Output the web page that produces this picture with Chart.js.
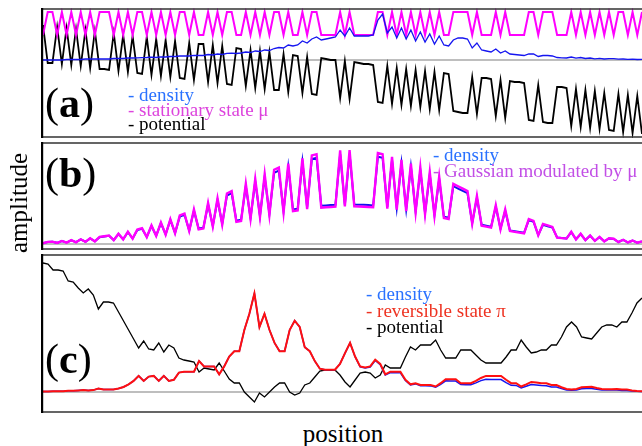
<!DOCTYPE html>
<html><head><meta charset="utf-8">
<script src="https://cdn.jsdelivr.net/npm/chart.js@4/dist/chart.umd.min.js"></script>
<style>
html,body{margin:0;padding:0;background:#fff;}
#wrap{position:relative;width:642px;height:446px;overflow:hidden;background:#fff;}
canvas{position:absolute;}
.t{position:absolute;white-space:nowrap;font-family:"Liberation Serif","Times New Roman",serif;line-height:1;}
.lg{font-size:19px;}
.pl{font-size:42px;color:#000;}
.pl b{font-weight:bold;}
.ax{font-size:25px;color:#000;}
</style></head><body><div id="wrap">
<canvas id="ca"></canvas><canvas id="cb"></canvas><canvas id="cc"></canvas>
<div class="t pl" style="left:45px;top:82px;">(<b>a</b>)</div>
<div class="t pl" style="left:45px;top:152px;">(<b>b</b>)</div>
<div class="t pl" style="left:45px;top:338px;">(<b>c</b>)</div>
<div class="t lg" style="left:128px;top:85px;color:#2a72ff;">- density</div>
<div class="t lg" style="left:128px;top:100px;color:#dd44dd;">- stationary state μ</div>
<div class="t lg" style="left:128px;top:114px;color:#000;">- potential</div>
<div class="t lg" style="left:433px;top:145px;color:#2a72ff;">- density</div>
<div class="t lg" style="left:433px;top:161px;color:#c24fe6;">- Gaussian modulated by μ</div>
<div class="t lg" style="left:366px;top:284px;color:#2a72ff;">- density</div>
<div class="t lg" style="left:366px;top:301px;color:#ee3322;">- reversible state π</div>
<div class="t lg" style="left:366px;top:317px;color:#000;">- potential</div>
<div class="t ax" style="left:18px;top:203px;transform:translate(-50%,-50%) rotate(-90deg);">amplitude</div>
<div class="t ax" style="left:343px;top:433px;transform:translate(-50%,-50%);">position</div>
</div>
<script>
// ---- Panel (a): 128 positions ----
const stationaryA = [
25,48,48,25,48,25,48,25,48,25,48,25,48,48,48,25,
48,25,48,25,48,48,25,48,25,48,25,48,25,48,48,25,
48,25,25,48,25,48,25,48,48,25,25,48,25,48,25,48,
25,48,48,25,48,25,25,48,25,48,48,25,25,25,25,48,
25,48,25,25,25,25,25,48,48,25,48,25,48,25,48,25,
48,25,48,25,48,25,25,48,48,48,48,25,48,25,25,25,
48,25,48,25,25,25,25,48,48,25,48,48,48,25,25,25,
48,25,48,25,48,25,48,25,48,25,48,48,25,48,25,48];
const potentialA = [
35,-3,-3,33,-4,32,-5,31,-6,30,-8,29,-9,-9,-10,27,
-11,25,-12,24,-13,-14,23,-15,21,-16,20,-17,19,-18,-19,17,
-20,16,16,-22,15,-23,14,-24,-25,12,11,-26,10,-28,9,-29,
8,-30,-30,6,-32,5,4,-33,3,-34,-35,2,1,0,0,-38,
-1,-39,-2,-3,-4,-4,-5,-42,-43,-6,-44,-8,-45,-9,-46,-10,
-47,-11,-49,-12,-50,-13,-14,-51,-52,-53,-53,-17,-54,-18,-18,-19,
-56,-20,-58,-21,-22,-22,-23,-60,-61,-25,-62,-63,-63,-27,-27,-28,
-66,-29,-67,-30,-68,-31,-69,-33,-70,-71,-34,-72,-35,-73,-36,-74];
const densityA = [
0,0,0,0,0,0.5,0.5,0.5,0.5,1,1,1,1,1,1,1.5,
1.5,1.5,2,2,2.2,2.4,2.5,2.8,2.5,3.2,3,3.5,3.5,4,4.2,4,
4.6,4.5,4.5,5.5,5,6,5.5,6.6,6.8,6.5,7,8,7.5,9,8.5,10,
9.5,11.5,12.5,12,15,14,15,19,17,21,23,20,21,22,23,30,
24,32,24,24,24,24,25,40,46,27,33,22,32,21,30,19,
28,18,26,16,24,15,14,20,22,22,21,12,17,10,9,8,
11,7,9,6,5.5,5,4.5,6,6,3.5,4.5,4.5,4,2.5,2.2,2,
3,1.8,2.5,1.5,2,1.2,1.6,1,1.3,1.3,0.8,1,0.6,0.8,0.5,0.6];

// ---- Panel (b): 128 positions ----
const gaussianB = [
1.0,2.7,3,1.4,4,1.8,5,2.2,6.1,2.7,7.5,3.3,9.2,10.1,11.1,4.9,
13.4,5.9,16,7,18.9,20.5,8.9,24.1,10.4,28,12,32.3,13.8,37,39.5,16.8,
44.8,19,20.2,53.3,22.5,59.3,25,65.5,68.6,28.7,30,78.1,32.5,84.4,35,90.5,
37.4,96.4,99.2,40.8,104.4,42.8,43.7,111.3,45.3,115,116.6,47.2,47.7,48.1,48.4,121.5,
48.8,122,48.8,48.6,48.4,48.1,47.7,118,116.6,46,113.2,44.5,109.2,42.8,104.4,40.8,
99.2,38.6,93.5,36.2,87.5,33.8,32.5,78.1,75,71.8,68.6,26.2,62.4,23.7,22.5,21.3,
50.4,19,44.8,16.8,15.8,14.8,13.8,32.3,30.1,11.2,26,24.1,22.2,8.2,7.6,7,
16,5.9,13.4,4.9,11.1,4,9.2,3.4,7.5,6.8,2.4,5.5,2,4.5,1.6,3.5];
const densityB = [
1.1,2.6,2.9,1.5,3.8,1.9,4.8,2.3,5.9,2.9,7.2,3.5,8.8,9.7,10.7,5.1,
12.9,6.2,15.4,7.3,18.1,19.7,9.3,23.1,10.9,26.9,12.6,31,14.5,35.5,37.9,17.7,
43,20,21.2,51.2,23.6,56.9,26.2,62.9,65.9,30.2,31.5,75,34.1,81,36.8,86.9,
39.3,92.5,95.2,42.8,100.2,44.9,45.9,106.8,47.5,110.4,111.9,49.6,50.1,50.5,50.8,116.6,
51.2,117.1,51.2,51,50.8,50.5,50.1,113.3,111.9,48.3,108.7,46.7,104.8,44.9,100.2,42.8,
95.2,40.5,89.8,38,84,35.4,34.1,75,72,68.9,65.9,27.5,59.9,24.9,23.6,22.4,
48.4,20,43,17.7,16.6,15.5,14.5,31,28.9,11.8,25,23.1,21.3,8.6,7.9,7.3,
15.4,6.2,12.9,5.1,10.7,4.2,8.8,3.5,7.2,6.5,2.6,5.3,2.1,4.3,1.7,3.4];

// ---- Panel (c): 120 positions ----
const potentialC = [
129,128,122,122,121,111,110,104,99,103,97,83,90,90,89,80,71,62,53,44,
51,43,42,49,40,47,44,34,32,31,30,20,24,23,22,29,21,13,9,9,
0,-5,-10,-1,-5,0,5,9,9,0,-3,-1,7,9,15,21,22,22,22,17,
10,5,12,19,20,19,14,17,27,24,24,24,35,45,42,47,47,47,52,42,
34,34,34,42,42,42,37,32,29,29,29,29,35,42,42,52,45,39,40,42,
42,47,47,55,65,70,65,55,54,53,59,65,67,67,65,70,70,79,89,94];
const reversibleC = [
0.6,0.6,0.8,0.8,0.8,1.2,1.2,1.5,1.9,1.5,1.9,3.5,2.4,2.4,2.4,3.5,5,7.7,11.1,16.1,
11.1,15.4,16.1,11.1,16.1,11.1,12.2,19.4,20.3,20.3,20.3,30.9,25.6,25.6,25.6,17.7,25.6,35.5,40.8,40.8,
62,78.2,98.7,65,78.2,62,49.1,40.8,40.8,62,71.3,65,44.8,40.8,30.9,23.3,22.3,22.3,22.3,28.1,
38.9,49.1,35.5,25.6,24.5,25.6,32.3,28.1,17.7,20.3,20.3,20.3,12.2,7.7,8.8,7,7,7,5.5,8.8,
12.8,12.8,12.8,8.8,8.8,8.8,11.1,14,16.1,16.1,16.1,16.1,12.2,8.8,8.8,5.5,7.7,10.1,9.6,8.8,
8.8,7,7,4.8,3,2.4,3,4.8,5,5.3,4,3,2.8,2.8,3,2.4,2.4,1.6,1,0.8];
const densityC = [
0.6,0.6,0.8,0.8,0.8,1.2,1.2,1.5,1.9,1.5,1.9,3.5,2.4,2.4,2.4,3.5,5,7.7,11.1,16.1,
11.1,15.4,16.1,11.1,16.1,11.1,12.2,19.4,20.3,20.3,20.3,30.9,25.6,25.6,25.6,17.7,25.6,35.5,40.8,40.8,
62,78.2,98.7,65,78.2,62,49.1,40.8,40.8,62,71.3,65,44.8,40.8,30.9,23.3,22.3,22.3,22.3,28.1,
38.9,49.1,35.3,25.2,24,25,31.5,27.3,17,19.4,19.3,19.2,11.4,7.1,8.1,6.3,6.2,6.1,4.7,7.6,
11.2,11,10.9,7.4,7.3,7.2,9.1,11.4,12.8,12.6,12.5,12.4,9.4,6.7,6.6,4.1,5.7,7.4,7,6.4,
6.3,5,5,3.4,2.1,1.7,2.1,3.3,3.5,3.6,2.7,2,1.9,1.9,2,1.6,1.6,1.1,0.7,0.5];

function pts(arr){ return arr.map((v,i)=>({x:i,y:v})); }

const framePlugin = {
  id:'frame',
  beforeDatasetsDraw(chart){
    const c=chart.ctx, y=chart.scales.y.getPixelForValue(0), a=chart.chartArea;
    c.save(); c.strokeStyle='#a8a8a8'; c.lineWidth=1.6;
    c.beginPath(); c.moveTo(a.left,y); c.lineTo(a.right,y); c.stroke(); c.restore();
  },
  afterDraw(chart){
    const c=chart.ctx, w=chart.width, h=chart.height;
    c.save(); c.strokeStyle='#333'; c.lineWidth=1.6;
    c.beginPath(); c.moveTo(0,1); c.lineTo(w,1); c.moveTo(0,h-1); c.lineTo(w,h-1); c.stroke();
    c.strokeStyle='#000'; c.lineWidth=2.2;
    c.beginPath(); c.moveTo(1.1,0); c.lineTo(1.1,h); c.stroke();
    c.restore();
  }
};

function panel(id, top, height, yMin, yMax, n, datasets){
  const el=document.getElementById(id);
  const left=41, width=603;
  el.width=width; el.height=height;
  el.style.left=left+'px'; el.style.top=top+'px';
  el.style.width=width+'px'; el.style.height=height+'px';
  const ppu = 599/(n-1);
  const xMin = -(43-left)/ppu, xMax = xMin + width/ppu;
  new Chart(el,{
    type:'line',
    data:{datasets},
    options:{
      responsive:false, animation:false, devicePixelRatio:1,
      layout:{padding:0},
      plugins:{legend:{display:false}, tooltip:{enabled:false}},
      scales:{
        x:{type:'linear', display:false, min:xMin, max:xMax},
        y:{type:'linear', display:false, min:yMin, max:yMax}
      },
      elements:{point:{radius:0}, line:{tension:0}}
    },
    plugins:[framePlugin]
  });
}

panel('ca', 8, 130, -78, 52, 128, [
  {data:pts(densityA), borderColor:'#1515f0', borderWidth:1.3},
  {data:pts(stationaryA), borderColor:'#ff00ff', borderWidth:2},
  {data:pts(potentialA), borderColor:'#000000', borderWidth:1.8}
]);
const bScale = 94/122;
panel('cb', 142, 108, (102-108)/bScale, 102/bScale, 128, [
  {data:pts(gaussianB), borderColor:'#ff00ff', borderWidth:2.4},
  {data:pts(densityB), borderColor:'#1010ee', borderWidth:2}
]);
panel('cc', 254, 159, -21, 138, 120, [
  {data:pts(reversibleC), borderColor:'#ff1010', borderWidth:2},
  {data:pts(densityC), borderColor:'#1515f0', borderWidth:1.5},
  {data:pts(potentialC), borderColor:'#000000', borderWidth:1.3}
]);
</script>
</body></html>
